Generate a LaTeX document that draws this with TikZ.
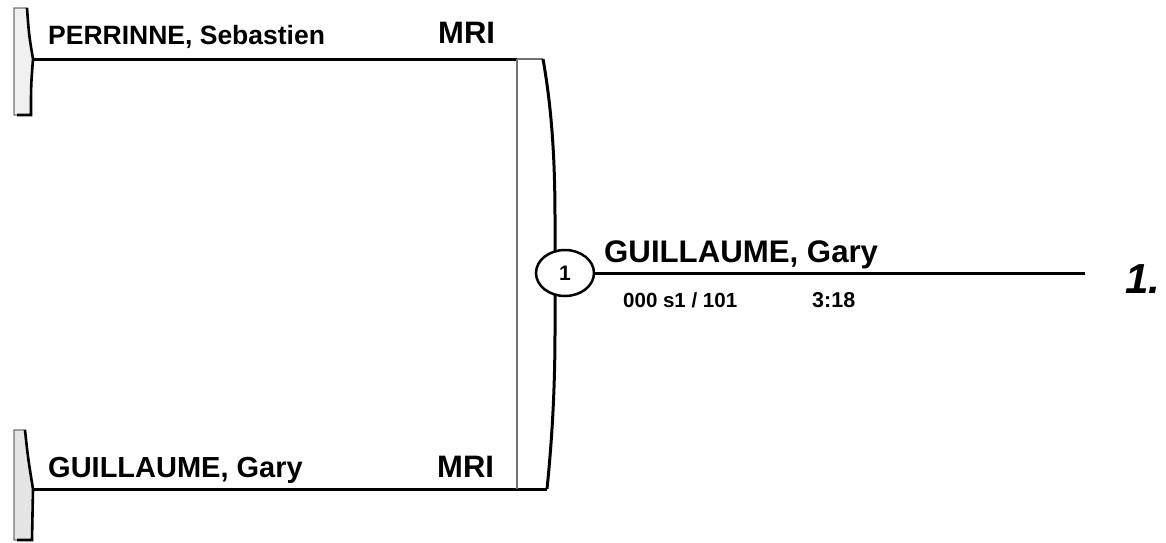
\documentclass[tikz,border=0pt]{standalone}
\usepackage{fontspec}
\setmainfont{Liberation Sans}
\usetikzlibrary{shapes.geometric}
\begin{document}
\begin{tikzpicture}[x=1pt,y=-1pt,
  wire/.style={line width=3pt,black},
  brk/.style={line width=2pt,black!55},
  tabfill/.style={fill=black!6,draw=black!55,line width=1.2pt},
  tabedge/.style={line width=2.6pt,black},
  nm/.style={anchor=base west,inner sep=0pt,font=\bfseries\fontsize{#1}{#1}\selectfont},
]
\useasboundingbox (0,0) rectangle (1166,542);
% tabs
\coordinate (t1) at (33,59);
\coordinate (t2) at (33,489);
\filldraw[tabfill] (14,8) -- (27,8) .. controls (29,35) .. (t1) .. controls (31,85) .. (31,115) -- (14,115) -- cycle;
\draw[tabedge] (27,8) .. controls (29,35) .. (t1) .. controls (31,85) .. (31,115) -- (17,115);
\filldraw[tabfill,fill=black!10] (14,430) -- (25,430) .. controls (28,458) .. (t2) .. controls (32,515) .. (32,540) -- (14,540) -- cycle;
\draw[tabedge] (25,430) .. controls (28,458) .. (t2) .. controls (32,515) .. (32,540) -- (17,540);
% bracket
\coordinate (bTL) at (517,59);
\coordinate (bTR) at (543,59);
\coordinate (bBL) at (517,489);
\coordinate (bBR) at (547,489);
\coordinate (fin) at (1085,273);
\draw[wire] (t1) -- (bTL);
\draw[brk] (bTL) -- (bTR);
\draw[wire] (t2) -- (bBR);
\draw[brk] (bTL) -- (bBL);
\draw[wire] (bTR) .. controls (552,110) and (555,160) .. (555,220) -- (555,330) .. controls (555,390) and (552,440) .. (bBR);
\node[ellipse,draw,line width=2.5pt,fill=white,minimum width=58pt,minimum height=46pt,inner sep=0pt,font=\bfseries\fontsize{21}{21}\selectfont] (m1) at (565,273) {1};
\draw[wire] (m1.east) -- (fin);
% texts
\node[nm=26.5] (p1) at (48,44) {PERRINNE, Sebastien};
\node[nm=31] (c1) at (438,43) {MRI};
\node[nm=29] (p2) at (48,477) {GUILLAUME, Gary};
\node[nm=31] (c2) at (437,477) {MRI};
\node[nm=31.2] (w) at (604,262) {GUILLAUME, Gary};
\node[nm=20.5] (sc) at (623,307) {000 s1 / 101};
\node[nm=21.5] (tm) at (812,307) {3:18};
\node[anchor=base west,inner sep=0pt,font=\bfseries\itshape\fontsize{42}{42}\selectfont] (rk) at (1125,293) {1.};
\end{tikzpicture}
\end{document}
